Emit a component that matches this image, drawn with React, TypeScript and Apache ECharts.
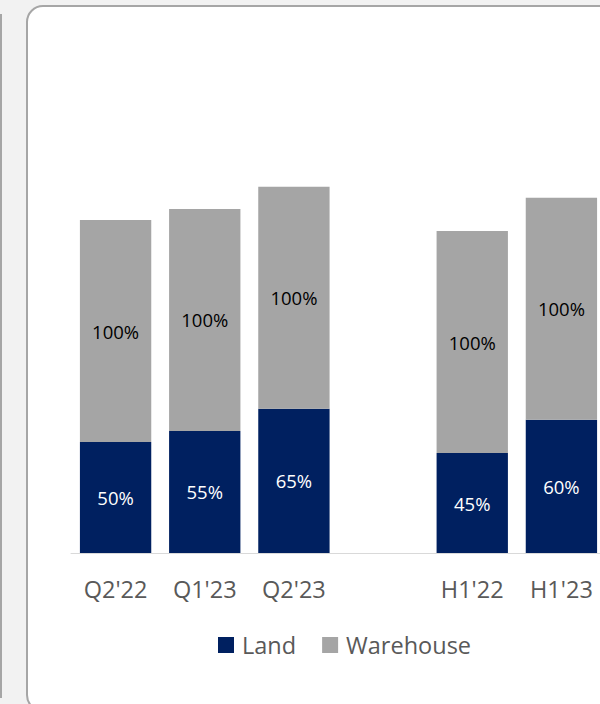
import React, { useEffect, useRef } from "react";
import * as echarts from "echarts";

const categories = ["Q2'22", "Q1'23", "Q2'23", "", "H1'22", "H1'23"];
const landValues = [50, 55, 65, null, 45, 60];
const warehouseValues = [100, 100, 100, null, 100, 100];
const seriesNames = ["Land", "Warehouse"];

export default function App() {
  const ref = useRef<HTMLDivElement>(null);
  useEffect(() => {
    if (!ref.current) return;
    const chart = echarts.init(ref.current, null, { renderer: "svg" });
    const font = "'Open Sans', Lato, sans-serif";
    chart.setOption({
      animation: false,
      backgroundColor: "#f2f2f2",
      textStyle: { fontFamily: font },
      graphic: [
        {
          type: "line",
          z: -10,
          shape: { x1: 1, y1: 14, x2: 1, y2: 698 },
          style: { stroke: "#a6a6a6", lineWidth: 2 },
        },
        {
          type: "rect",
          z: -10,
          shape: { x: 27, y: 6, width: 620, height: 705, r: 16 },
          style: { fill: "#ffffff", stroke: "#a6a6a6", lineWidth: 2 },
        },
      ],
      grid: { left: 71, top: 109, width: 535, height: 444 },
      legend: {
        data: seriesNames,
        left: 213,
        top: 628,
        itemWidth: 16,
        itemHeight: 16,
        itemGap: 26,
        icon: "rect",
        textStyle: { fontSize: 23.5, color: "#595959", fontFamily: font, padding: [0, 0, 0, 3] },
      },
      xAxis: {
        type: "category",
        data: categories,
        axisLine: { show: true, lineStyle: { color: "#d9d9d9", width: 1 } },
        axisTick: { show: false },
        axisLabel: { fontSize: 23.5, color: "#595959", margin: 24, fontFamily: font },
      },
      yAxis: {
        type: "value",
        min: 0,
        max: 200,
        show: false,
        splitLine: { show: false },
      },
      series: [
        {
          name: seriesNames[0],
          type: "bar",
          stack: "total",
          data: landValues,
          barWidth: "80%",
          itemStyle: { color: "#002060" },
          label: {
            show: true,
            position: "inside",
            formatter: "{c}%",
            color: "#ffffff",
            fontSize: 18.5,
            fontFamily: font,
          },
        },
        {
          name: seriesNames[1],
          type: "bar",
          stack: "total",
          data: warehouseValues,
          barWidth: "80%",
          itemStyle: { color: "#a5a5a5" },
          label: {
            show: true,
            position: "inside",
            formatter: "{c}%",
            color: "#000000",
            fontSize: 18.5,
            fontFamily: font,
          },
        },
      ],
    });
    return () => chart.dispose();
  }, []);
  return (
    <div
      style={{
        position: "fixed",
        left: 0,
        top: 0,
        width: 600,
        height: 704,
        overflow: "hidden",
      }}
    >
      <div ref={ref} style={{ width: 640, height: 704 }} />
    </div>
  );
}
